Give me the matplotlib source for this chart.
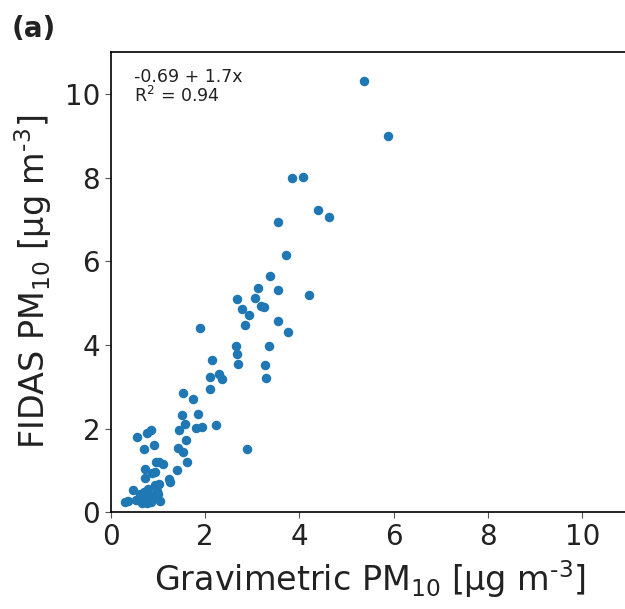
import numpy as np
import matplotlib
matplotlib.use('Agg')
import matplotlib.pyplot as plt

# Gravimetric (x) vs FIDAS (y) PM10
grav = [5.37, 5.89, 3.84, 4.07, 4.40, 4.62, 3.55, 3.72, 3.37, 3.13, 3.55, 4.20,
        2.67, 3.07, 2.78, 2.93, 3.19, 3.25, 2.85, 3.55, 3.77, 1.90, 2.65, 3.35,
        2.68, 2.70, 3.27, 3.30, 2.15, 2.10, 2.30, 2.37, 2.10, 1.53, 1.75, 1.51,
        1.85, 1.58, 1.45, 1.80, 1.93, 2.23, 1.60, 0.55, 0.78, 0.85, 0.93, 0.70,
        1.42, 1.53, 2.90, 1.62, 1.40, 0.73, 0.97, 1.03, 1.12, 0.88, 0.95, 0.73,
        1.23, 1.25, 0.95, 1.03, 0.47, 0.79, 0.98, 0.53, 0.36, 0.30, 1.05, 0.90,
        0.66, 0.62, 0.68, 0.72, 0.75, 0.80, 0.85, 0.65, 0.70, 0.78, 0.60, 0.90,
        1.00]
fidas = [10.32, 9.00, 7.99, 8.02, 7.23, 7.06, 6.93, 6.15, 5.64, 5.37, 5.32, 5.20,
         5.10, 5.12, 4.87, 4.72, 4.93, 4.91, 4.48, 4.57, 4.31, 4.41, 3.97, 3.97,
         3.78, 3.55, 3.52, 3.21, 3.65, 3.24, 3.30, 3.20, 2.94, 2.86, 2.70, 2.33,
         2.36, 2.12, 1.96, 2.01, 2.04, 2.09, 1.74, 1.80, 1.90, 1.97, 1.62, 1.52,
         1.53, 1.45, 1.52, 1.20, 1.02, 1.04, 1.21, 1.21, 1.16, 0.95, 0.97, 0.82,
         0.81, 0.74, 0.66, 0.68, 0.53, 0.56, 0.51, 0.30, 0.28, 0.24, 0.28, 0.32,
         0.22, 0.45, 0.38, 0.30, 0.42, 0.35, 0.25, 0.28, 0.50, 0.22, 0.33, 0.40,
         0.45]

fit_text = '-0.69 + 1.7x\nR$^2$ = 0.94'

plt.rcParams['font.family'] = 'DejaVu Sans'
plt.rcParams['mathtext.default'] = 'regular'
plt.rcParams['text.color'] = '#222222'
plt.rcParams['axes.labelcolor'] = '#222222'
plt.rcParams['xtick.labelcolor'] = '#222222'
plt.rcParams['ytick.labelcolor'] = '#222222'

fig = plt.figure(figsize=(6.25, 6.09), dpi=100)
ax = fig.add_axes([0.177, 0.1585, 0.830, 0.756])

ax.scatter(grav, fidas, s=34, color='#1f77b4', zorder=3)

ax.set_xlim(0, 11)
ax.set_ylim(0, 11)
ax.set_xticks([0, 2, 4, 6, 8, 10])
ax.set_yticks([0, 2, 4, 6, 8, 10])
ax.tick_params(labelsize=20, color='#555555', length=4)
for sp in ax.spines.values():
    sp.set_linewidth(1.2)

ax.set_xlabel('Gravimetric PM$_{10}$ [µg m$^{\\text{-3}}$]', fontsize=24, labelpad=5)
ax.set_ylabel('FIDAS PM$_{10}$ [µg m$^{\\text{-3}}$]', fontsize=24, labelpad=8)

ax.text(0.045, 0.965, fit_text, transform=ax.transAxes, fontsize=12.5,
        va='top', ha='left', linespacing=1.0)

fig.text(0.018, 0.975, '(a)', fontsize=20, fontweight='bold', va='top', ha='left')

fig.savefig('out.png', dpi=100)
